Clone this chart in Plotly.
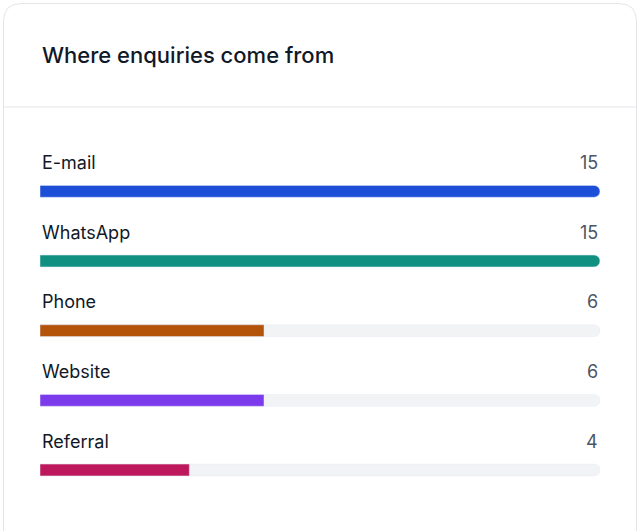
import plotly.graph_objects as go

categories = ["E-mail", "WhatsApp", "Phone", "Website", "Referral"]
values = [15, 15, 6, 6, 4]
colors = ["#1d4ed8", "#0f9080", "#b4530a", "#7c3aed", "#be185d"]
max_value = 15
title = "Where enquiries come from"

W, H = 640, 531
def px(x): return x / W
def py(y): return 1 - y / H

fig = go.Figure()
fig.add_trace(go.Bar(y=categories, x=[max_value] * len(categories), orientation="h",
                     marker=dict(color="#f2f3f5", cornerradius="50%"), width=0.17,
                     hoverinfo="skip", showlegend=False))
fig.add_trace(go.Bar(y=categories, x=values, orientation="h",
                     marker=dict(color=colors, cornerradius="50%"), width=0.17,
                     showlegend=False))

ann = []
for c, v in zip(categories, values):
    ann.append(dict(x=0, y=c, xref="x", yref="y", text=c, showarrow=False,
                    xanchor="left", yanchor="middle", yshift=29,
                    font=dict(size=18, color="#111827")))
    ann.append(dict(x=max_value, y=c, xref="x", yref="y", text=str(v), showarrow=False,
                    xanchor="right", yanchor="middle", yshift=29,
                    font=dict(size=18, color="#4b5563")))
ann.append(dict(x=px(40), y=py(55), xref="paper", yref="paper", text=title,
                showarrow=False, xanchor="left", yanchor="middle",
                font=dict(size=22, color="#111827", family="Inter", weight=500)))

r = 18
x0, x1, y0, y1 = px(3.5), px(636.5), py(3.5), py(540)
rx, ry = r / W, r / H
path = (f"M {x0},{y1} L {x0},{y0-ry} Q {x0},{y0} {x0+rx},{y0} "
        f"L {x1-rx},{y0} Q {x1},{y0} {x1},{y0-ry} L {x1},{y1}")
shapes = [
    dict(type="path", path=path, xref="paper", yref="paper",
         line=dict(color="#e3e5e8", width=1), fillcolor="white", layer="below"),
    dict(type="line", x0=x0, x1=x1, y0=py(107), y1=py(107), xref="paper", yref="paper",
         line=dict(color="#e3e5e8", width=1)),
]

fig.update_layout(
    width=W, height=H, margin=dict(l=0, r=0, t=0, b=0),
    paper_bgcolor="white", plot_bgcolor="rgba(0,0,0,0)",
    barmode="overlay", font=dict(family="Inter"),
    xaxis=dict(domain=[px(40), px(600)], range=[0, max_value], visible=False, fixedrange=True),
    yaxis=dict(domain=[1 - 511.5 / H, 1 - 156.5 / H], autorange="reversed",
               visible=False, fixedrange=True),
    annotations=ann, shapes=shapes,
)
fig.write_html("out.html", config={"displayModeBar": False},
               post_script="document.body.style.margin='0';document.body.style.overflow='hidden';")
